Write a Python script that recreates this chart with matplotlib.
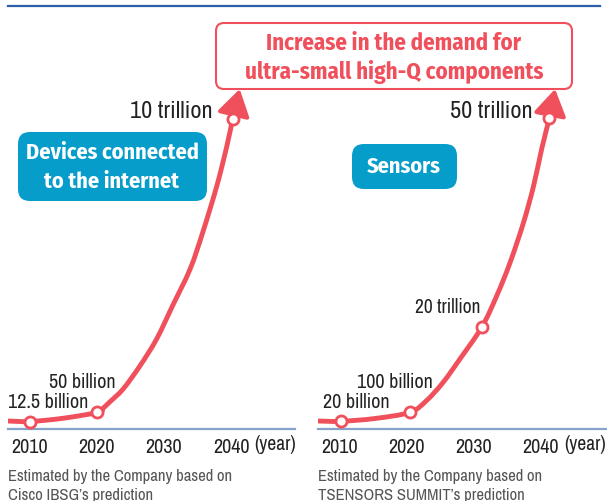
import matplotlib
matplotlib.use("Agg")
import matplotlib.pyplot as plt
from matplotlib.patches import FancyBboxPatch, PathPatch
from matplotlib.path import Path

# --- data (curve heights are schematic) ---
# left: devices connected to the internet (Cisco IBSG)
dev_years = [2010, 2020, 2040.25]
dev_level = [7, 16.5, 310]
dev_labels = ["12.5 billion", "50 billion", "10 trillion"]
dev_curve_years = [2006.7, 2010, 2014.9, 2020.2, 2020.9, 2021.9, 2023.9, 2026.4,
                   2028.9, 2031.3, 2033.9, 2035.8, 2037.9, 2039.4, 2040.25]
dev_curve_level = [7.5, 7, 10.2, 16.2, 20.2, 26.5, 39.5, 62.5,
                   89.5, 123, 159.5, 196.5, 243, 283, 310]
dev_arrow_tip = (2041.3, 339.5)

# right: sensors (TSENSORS SUMMIT)
sen_years = [2010.1, 2020.45, 2031.15, 2041.25]
sen_level = [7.2, 16.2, 101.2, 310.2]
sen_labels = ["20 billion", "100 billion", "20 trillion", "50 trillion"]
sen_curve_years = [2006.7, 2010.1, 2015.2, 2020.45, 2022.9, 2025.4, 2027.9, 2031.15,
                   2033.4, 2035.4, 2037.4, 2038.9, 2040.1, 2041.25]
sen_curve_level = [7.5, 7.2, 10, 16.2, 27.8, 46.2, 69.5, 101.2,
                   132.8, 166.2, 206.2, 242.8, 279.5, 310.2]
sen_arrow_tip = (2042.1, 339.5)

tick_years = [2010, 2020, 2030, 2040]

RED = "#f0505c"
BLUE = "#069dcb"
AXIS = "#86a3c9"
DARK = "#222222"
FONT = ["Archivo Narrow", "DejaVu Sans"]
BOLD = ["Fira Sans Condensed", "DejaVu Sans"]
plt.rcParams["font.family"] = FONT

W, H = 607, 502
fig = plt.figure(figsize=(W / 100, H / 100), dpi=100)

base = 429.5  # pixel row of the axis line


def smooth_path(xs, ys):
    # Catmull-Rom through the traced points, as cubic Bezier segments
    pts = list(zip(xs, ys))
    verts, codes = [pts[0]], [Path.MOVETO]
    for i in range(len(pts) - 1):
        p0 = pts[max(i - 1, 0)]
        p1, p2 = pts[i], pts[i + 1]
        p3 = pts[min(i + 2, len(pts) - 1)]
        c1 = (p1[0] + (p2[0] - p0[0]) / 6, p1[1] + (p2[1] - p0[1]) / 6)
        c2 = (p2[0] - (p3[0] - p1[0]) / 6, p2[1] - (p3[1] - p1[1]) / 6)
        verts += [c1, c2, p2]
        codes += [Path.CURVE4] * 3
    return Path(verts, codes)


def panel(x0, x1, xlim, cyears, clevel, years, level, tip):
    ax = fig.add_axes([x0 / W, (H - base) / H, (x1 - x0) / W, base / H])
    ax.set_xlim(*xlim)
    ax.set_ylim(0, base)
    ax.patch.set_alpha(0)
    for s in ["top", "left", "right"]:
        ax.spines[s].set_visible(False)
    ax.spines["bottom"].set_color(AXIS)
    ax.spines["bottom"].set_linewidth(1.6)
    ax.set_yticks([])
    ax.set_xticks(tick_years)
    ax.set_xticklabels([str(y) for y in tick_years])
    ax.tick_params(axis="x", length=0, pad=6, labelsize=14.5, labelcolor=DARK)
    ax.add_patch(PathPatch(smooth_path(cyears, clevel), fc="none", ec=RED,
                           lw=3.5, joinstyle="round", capstyle="butt", zorder=3))
    ax.annotate("", xy=tip, xytext=(years[-1], level[-1]),
                arrowprops=dict(arrowstyle="-|>,head_length=0.8,head_width=0.5",
                                color=RED, lw=3, shrinkA=0, shrinkB=0,
                                mutation_scale=20), zorder=3)
    ax.plot(years, level, "o", ms=8, mfc="white", mec=RED, mew=2, zorder=4)
    return ax


panel(8, 295, (2006.72, 2049.55), dev_curve_years, dev_curve_level,
      dev_years, dev_level, dev_arrow_tip)
panel(318, 607, (2006.72, 2049.85), sen_curve_years, sen_curve_level,
      sen_years, sen_level, sen_arrow_tip)

# overlay in pixel coordinates for boxes and texts
ov = fig.add_axes([0, 0, 1, 1])
ov.set_xlim(0, W)
ov.set_ylim(H, 0)
ov.axis("off")
ov.patch.set_alpha(0)

ov.plot([8, 600], [7, 7], color="#2d5fa8", lw=1.6)


def rbox(x0, y0, x1, y1, r, **kw):
    ov.add_patch(FancyBboxPatch((x0 + r, y0 + r), x1 - x0 - 2 * r, y1 - y0 - 2 * r,
                                boxstyle=f"round,pad={r},rounding_size={r}", **kw))


def btext(x, y, s, color, size):
    ov.text(x, y, s, color=color, fontsize=size, family=BOLD, fontweight="bold",
            ha="center", va="center", zorder=6)


rbox(216, 24, 572, 90, 8, fc="white", ec=RED, lw=1.5, zorder=5)
btext(394, 43, "Increase in the demand for", RED, 16.5)
btext(394, 72, "ultra-small high-Q components", RED, 16.5)

rbox(18, 133, 207, 202, 12, fc=BLUE, ec="none", zorder=5)
btext(112, 153, "Devices connected", "white", 16)
btext(112, 182, "to the internet", "white", 16)

rbox(352, 145, 457, 190, 12, fc=BLUE, ec="none", zorder=5)
btext(404, 167, "Sensors", "white", 16)

# value labels
ov.text(8, 403, dev_labels[0], fontsize=14.5, color=DARK, va="center", ha="left")
ov.text(49, 383, dev_labels[1], fontsize=14.5, color=DARK, va="center", ha="left")
ov.text(213, 112, dev_labels[2], fontsize=17.5, color=DARK, va="center", ha="right")
ov.text(323, 403, sen_labels[0], fontsize=14.5, color=DARK, va="center", ha="left")
ov.text(357, 383, sen_labels[1], fontsize=14.5, color=DARK, va="center", ha="left")
ov.text(480, 308, sen_labels[2], fontsize=14, color=DARK, va="center", ha="right")
ov.text(533, 112, sen_labels[3], fontsize=17.5, color=DARK, va="center", ha="right")

# year unit
ov.text(296, 445, "(year)", fontsize=14, color=DARK, va="center", ha="right")
ov.text(606, 445, "(year)", fontsize=14, color=DARK, va="center", ha="right")

# sources
cap = dict(fontsize=12, color="#555555", va="center", ha="left")
ov.text(8, 477, "Estimated by the Company based on", **cap)
ov.text(8, 496, "Cisco IBSG\u2019s prediction", **cap)
ov.text(318, 477, "Estimated by the Company based on", **cap)
ov.text(318, 496, "TSENSORS SUMMIT\u2019s prediction", **cap)

fig.savefig("out.png", dpi=100)
